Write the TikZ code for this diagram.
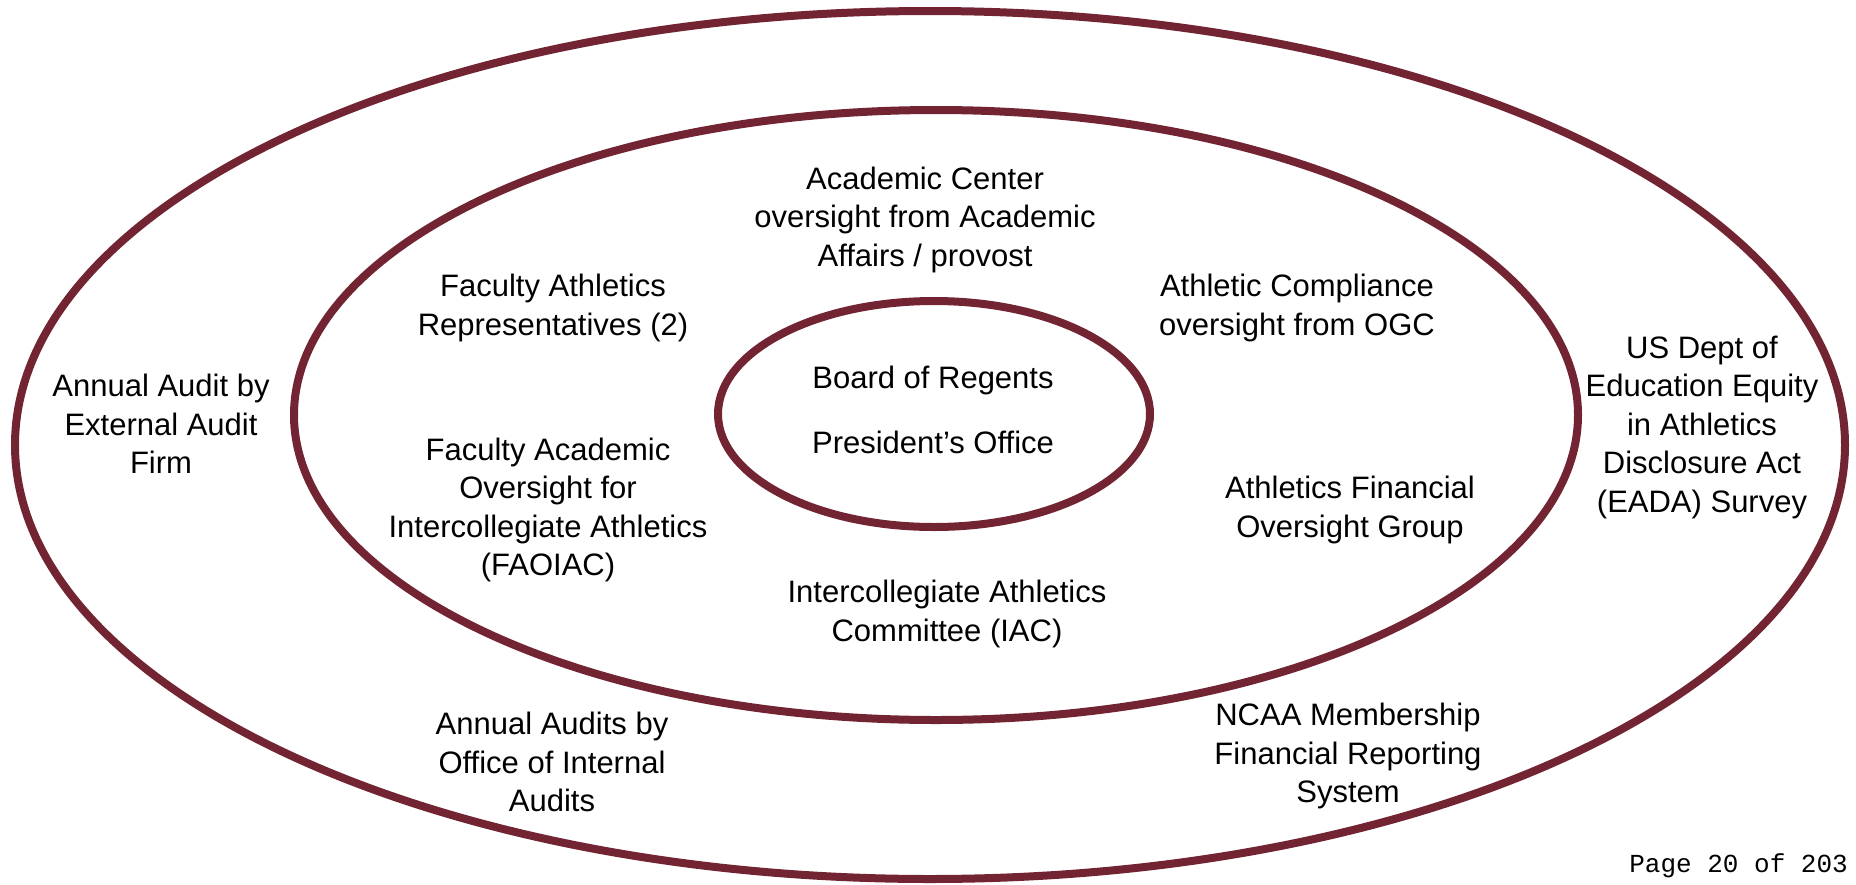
\documentclass[tikz,border=0pt]{standalone}
\usepackage{fontspec}
\setmainfont{Liberation Sans}
\newfontfamily\pagefont{Liberation Mono}
\definecolor{maroon}{RGB}{115,36,51}
\begin{document}
\begin{tikzpicture}[x=1pt,y=-1pt,
  ring/.style={draw=maroon,line width=8pt},
  lbl/.style={align=center,font=\fontsize{31}{38.5}\selectfont,inner sep=0pt}]
\useasboundingbox (0,0) rectangle (1856,884);
\draw[ring] (930,445) ellipse [x radius=915,y radius=434];
\draw[ring] (936,415) ellipse [x radius=642,y radius=305];
\draw[ring] (934,414) ellipse [x radius=216,y radius=113];
\node[lbl] (acad) at (925,219.5) {Academic Center\\oversight from Academic\\Affairs / provost};
\node[lbl] (far) at (553,308) {Faculty Athletics\\Representatives (2)};
\node[lbl] (comp) at (1297,308) {Athletic Compliance\\oversight from OGC};
\node[lbl] (ext) at (161,424) {Annual Audit by\\External Audit\\Firm};
\node[lbl] (eada) at (1702,427) {US Dept of\\Education Equity\\in Athletics\\Disclosure Act\\(EADA) Survey};
\node[lbl] (bor) at (933,380) {Board of Regents};
\node[lbl] (pres) at (933,442.5) {President’s Office};
\node[lbl] (faoiac) at (548,510) {Faculty Academic\\Oversight for\\Intercollegiate Athletics\\(FAOIAC)};
\node[lbl] (fin) at (1350,510) {Athletics Financial\\Oversight Group};
\node[lbl] (iac) at (947,614) {Intercollegiate Athletics\\Committee (IAC)};
\node[lbl] (int) at (552,762) {Annual Audits by\\Office of Internal\\Audits};
\node[lbl] (ncaa) at (1348,756) {NCAA Membership\\Financial Reporting\\System};
\node[anchor=east,inner sep=0pt,font=\pagefont\fontsize{26}{30}\selectfont] (page) at (1848,866) {Page 20 of 203};
\end{tikzpicture}
\end{document}
